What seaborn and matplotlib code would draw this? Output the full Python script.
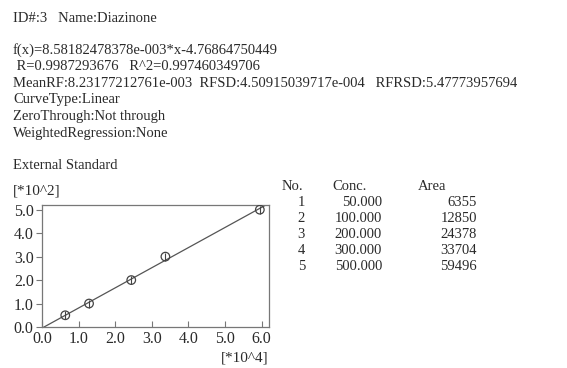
import matplotlib
matplotlib.use("Agg")
import matplotlib.pyplot as plt
import seaborn as sns
import numpy as np
import pandas as pd

# ---- data ----
compound_id = 3
compound_name = "Diazinone"
slope = 8.58182478378e-003
intercept = -4.76864750449
r_value = "0.9987293676"
r2_value = "0.997460349706"
mean_rf = "8.23177212761e-003"
rfsd = "4.50915039717e-004"
rfrsd = "5.47773957694"
curve_type = "Linear"
zero_through = "Not through"
weighted = "None"

nos = [1, 2, 3, 4, 5]
conc = [50.000, 100.000, 200.000, 300.000, 500.000]
area = [6355, 12850, 24378, 33704, 59496]

x_ticks = [0.0, 1.0, 2.0, 3.0, 4.0, 5.0, 6.0]
y_ticks = [0.0, 1.0, 2.0, 3.0, 4.0, 5.0]
x_scale = 1e4
y_scale = 1e2

sns.set_theme(style="white")
plt.rcParams['font.family'] = ['Liberation Serif', 'DejaVu Serif']

W, H = 567, 368
fig = plt.figure(figsize=(W / 100, H / 100), dpi=100)
fig.patch.set_facecolor("white")
TXT = "#2a2a2a"
FS = 10.5


def ftext(x, y, s, ha="left", fs=FS):
    fig.text(x / W, 1 - y / H, s, ha=ha, va="center", fontsize=fs, color=TXT)


ftext(13, 18, f"ID#:{compound_id}   Name:{compound_name}")
header_lines = [
    f"f(x)={slope:.11e}*x{intercept:.11f}".replace("e-03", "e-003"),
    f" R={r_value}   R^2={r2_value}",
    f"MeanRF:{mean_rf}  RFSD:{rfsd}   RFRSD:{rfrsd}",
    f"CurveType:{curve_type}",
    f"ZeroThrough:{zero_through}",
    f"WeightedRegression:{weighted}",
]
for i, s in enumerate(header_lines):
    ftext(13, 50 + i * 16.6, s)
ftext(13, 165, "External Standard")
ftext(13, 191, "[*10^2]", fs=11)
ftext(269, 358, "[*10^4]", ha="right", fs=11)

# table
ftext(282, 186, "No.")
ftext(332, 186, "Conc.")
ftext(418, 186, "Area")
row_y0, row_dy = 202, 16.2
for i, (n, c, a) in enumerate(zip(nos, conc, area)):
    yy = row_y0 + i * row_dy
    ftext(305, yy, f"{n}", ha="right")
    ftext(382, yy, f"{c:.3f}", ha="right")
    ftext(477, yy, f"{a}", ha="right")

# plot
left, right, top, bottom = 42, 269, 205, 327
ax = fig.add_axes([left / W, 1 - bottom / H, (right - left) / W, (bottom - top) / H])
df = pd.DataFrame({"x": np.array(area) / x_scale, "y": np.array(conc) / y_scale})

xlim = (0.0, 6.2)
ylim = (0.0, 5.2)
xl = np.array(xlim)
line_df = pd.DataFrame({"x": xl, "y": (slope * xl * x_scale + intercept) / y_scale})
sns.lineplot(data=line_df, x="x", y="y", ax=ax, color="#555555", linewidth=0.9)
sns.scatterplot(data=df, x="x", y="y", ax=ax, s=38, facecolors="none",
                edgecolor="#444444", linewidth=0.9, zorder=3)
ax.scatter(df["x"], df["y"], s=38, marker="|", color="#444444", linewidths=0.8, zorder=3)

ax.set_xlim(*xlim)
ax.set_ylim(*ylim)
ax.set_xticks(x_ticks)
ax.set_yticks(y_ticks)
ax.set_xticklabels([f"{t:.1f}" for t in x_ticks])
ax.set_yticklabels([f"{t:.1f}" for t in y_ticks])
ax.set_xlabel("")
ax.set_ylabel("")
for sp in ax.spines.values():
    sp.set_color("#777777")
    sp.set_linewidth(0.9)
ax.tick_params(axis="x", direction="in", length=4, width=0.8, color="#777777",
               labelsize=11.5, labelcolor=TXT, pad=3, bottom=True)
ax.tick_params(axis="y", direction="out", length=4, width=0.8, color="#777777",
               labelsize=11.5, labelcolor=TXT, pad=2, left=True)
ax.grid(False)

fig.savefig("out.png", dpi=100, facecolor="white")
